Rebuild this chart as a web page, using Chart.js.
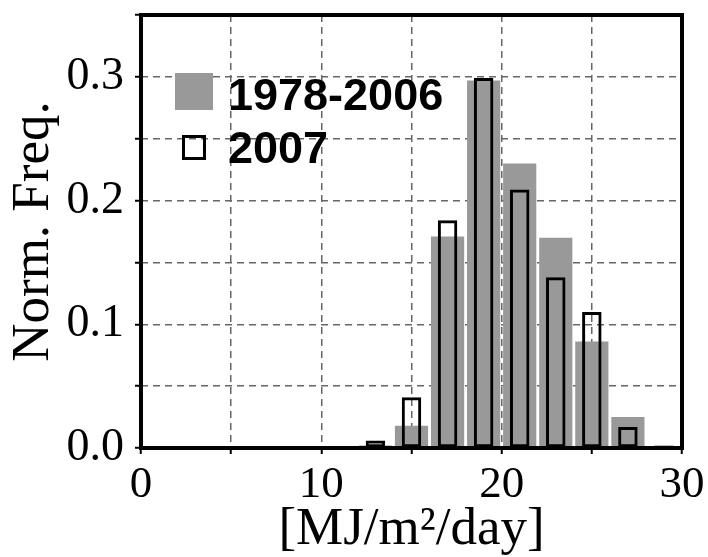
<!DOCTYPE html>
<html>
<head>
<meta charset="utf-8">
<script src="https://cdn.jsdelivr.net/npm/chart.js@4"></script>
<style>
  body { margin: 0; background: #fff; }
  #wrap { width: 708px; height: 557px; }
</style>
</head>
<body>
<div id="wrap"><canvas id="hist" width="708" height="557"></canvas></div>
<script>
// bin centres, 2 MJ/m2/day wide bins
let binCenters = [1, 3, 5, 7, 9, 11, 13, 15, 17, 19, 21, 23, 25, 27, 29]
// normalized frequency, climatology 1978-2006
let freqClim = [0, 0, 0, 0, 0, 0, 0.002, 0.018, 0.171, 0.297, 0.230, 0.170, 0.086, 0.025, 0.001]
// normalized frequency, year 2007
let freq2007 = [0, 0, 0, 0, 0, 0, 0.006, 0.041, 0.184, 0.299, 0.209, 0.138, 0.110, 0.017, 0.002]

let seriesNames = ["1978-2006", "2007"]
let xTicks = [0, 10, 20, 30]
let yTicks = [0.0, 0.1, 0.2, 0.3]

function toPoints(values){
  let pts = []
  values.forEach(function(v, i){
    pts.push({ x: binCenters[i], y: v })
  })
  return pts
}

// frame round the plot + the legend in the upper left corner
let framePlugin = {
  id: 'frame',
  afterDatasetsDraw(chart){
    let ctx = chart.ctx
    let a = chart.chartArea
    ctx.save()
    ctx.strokeStyle = '#000'
    ctx.lineWidth = 4
    ctx.strokeRect(a.left, a.top, a.right - a.left, a.bottom - a.top)
    ctx.restore()
  },
  afterDraw(chart){
    let ctx = chart.ctx
    let a = chart.chartArea
    let x0 = a.left + 34
    ctx.save()
    // filled box for the climatology
    ctx.fillStyle = '#999999'
    ctx.fillRect(x0, a.top + 58, 38, 37)
    // open box for 2007
    ctx.strokeStyle = '#000'
    ctx.lineWidth = 3
    ctx.strokeRect(x0 + 8.5, a.top + 121.5, 21, 22)
    ctx.fillStyle = '#000'
    ctx.font = 'bold 45px "Liberation Sans", Arial, sans-serif'
    ctx.textBaseline = 'alphabetic'
    ctx.fillText(seriesNames[0], x0 + 53, a.top + 95)
    ctx.fillText(seriesNames[1], x0 + 53, a.top + 148)
    ctx.restore()
  }
}

let serif = '"Liberation Serif", "Times New Roman", serif'

new Chart(document.getElementById("hist"), {
  type: 'bar',
  data: {
    datasets: [
      {
        label: seriesNames[1],
        data: toPoints(freq2007),
        backgroundColor: 'rgba(0,0,0,0)',
        borderColor: '#000',
        borderWidth: 3,
        borderSkipped: false,
        barPercentage: 0.54,
        categoryPercentage: 1,
        grouped: false,
        order: 1
      },
      {
        label: seriesNames[0],
        data: toPoints(freqClim),
        backgroundColor: '#999999',
        borderWidth: 0,
        barPercentage: 0.92,
        categoryPercentage: 1,
        grouped: false,
        order: 2
      }
    ]
  },
  options: {
    responsive: false,
    animation: false,
    layout: { padding: { top: 15, right: 26, left: 0, bottom: 0 } },
    plugins: {
      legend: { display: false },
      tooltip: { enabled: false }
    },
    scales: {
      x: {
        type: 'linear',
        min: 0,
        max: 30,
        offset: false,
        afterFit: function(scale){
          scale.height = 109
          scale.paddingLeft = 0
          scale.paddingRight = 0
        },
        grid: {
          offset: false,
          color: '#666',
          lineWidth: 1.5,
          tickColor: '#000',
          tickWidth: 2,
          tickLength: 6
        },
        border: { display: false, dash: [7, 5] },
        ticks: {
          stepSize: 5,
          autoSkip: false,
          maxRotation: 0,
          padding: 4,
          color: '#000',
          font: { family: serif, size: 45 },
          callback: function(v){ return xTicks.indexOf(v) >= 0 ? String(v) : '' }
        },
        title: {
          display: true,
          text: '[MJ/m²/day]',
          color: '#000',
          font: { family: serif, size: 53, lineHeight: 1 },
          padding: { top: 0, bottom: 0 }
        }
      },
      y: {
        min: 0,
        max: 0.35,
        afterFit: function(scale){
          scale.width = 141
          scale.paddingTop = 0
          scale.paddingBottom = 0
        },
        grid: {
          color: '#666',
          lineWidth: 1.5,
          tickColor: '#000',
          tickWidth: 2,
          tickLength: 6
        },
        border: { display: false, dash: [7, 5] },
        ticks: {
          stepSize: 0.05,
          autoSkip: false,
          padding: 11,
          color: '#000',
          font: { family: serif, size: 46 },
          callback: function(v){
            let r = Math.round(v * 100) / 100
            return yTicks.indexOf(r) >= 0 ? r.toFixed(1) : ''
          }
        },
        title: {
          display: true,
          text: 'Norm. Freq.',
          color: '#000',
          font: { family: serif, size: 53, lineHeight: 1 },
          padding: { top: 8, bottom: 0 }
        }
      }
    }
  },
  plugins: [framePlugin]
});
</script>
</body>
</html>
